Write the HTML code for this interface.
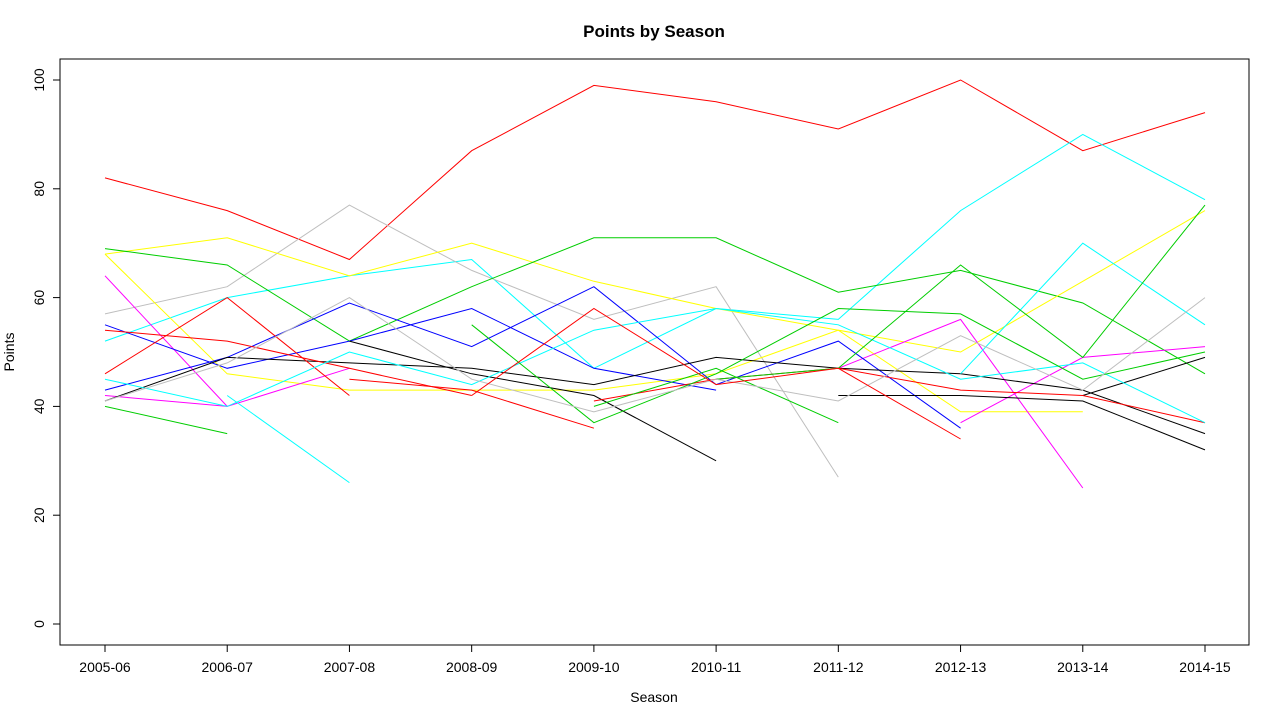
<!DOCTYPE html>
<html><head><meta charset="utf-8"><style>
body{margin:0;background:#fff}
svg text{font-family:"Liberation Sans",Arial,sans-serif;fill:#000}
</style></head><body>
<svg id="chart" width="1280" height="720" xmlns="http://www.w3.org/2000/svg">
<rect width="1280" height="720" fill="#fff"/>
<text x="654" y="37" text-anchor="middle" font-size="17" font-weight="bold">Points by Season</text>
<rect x="60" y="59" width="1189" height="586" fill="none" stroke="#000"/>
<g id="marks"></g><g id="axes"></g>
<text x="654" y="702" text-anchor="middle" font-size="14">Season</text>
<text transform="translate(14,352) rotate(-90)" text-anchor="middle" font-size="14">Points</text>
</svg>
<script>
const seasons=["2005-06","2006-07","2007-08","2008-09","2009-10","2010-11","2011-12","2012-13","2013-14","2014-15"];
const yTicks=[0,20,40,60,80,100];
const seriesColors=["red","cyan","#bebebe","yellow","#00cd00","#00cd00","yellow","yellow","magenta","magenta","magenta","magenta","blue","blue","black","black","black","black","red","red","red","red","cyan","cyan","cyan","#00cd00","#00cd00","#00cd00","#bebebe","red"];
const s1=[82,76,67,87,99,96,91,100,87,94];
const s2=[52,60,64,67,47,58,56,76,90,78];
const s3=[57,62,77,65,56,62,27,null,null,null];
const s4=[68,71,64,70,63,58,54,39,39,null];
const s5=[69,66,52,62,71,71,61,65,59,46];
const s6=[40,35,null,null,null,null,null,null,null,null];
const s7=[68,46,43,43,43,46,54,50,63,76];
const s8=[null,54,null,33,null,null,null,null,null,null];
const s9=[64,40,null,null,null,null,null,null,null,null];
const s10=[42,40,47,null,null,null,null,null,null,null];
const s11=[null,null,null,null,null,null,47,56,25,null];
const s12=[null,null,null,null,null,null,null,37,49,51];
const s13=[55,47,52,58,47,43,null,null,null,null];
const s14=[43,49,59,51,62,44,52,36,null,null];
const s15=[41,49,48,47,44,49,47,46,43,35];
const s16=[null,null,52,46,42,30,null,null,null,null];
const s17=[null,null,null,null,null,null,42,42,41,32];
const s18=[null,null,null,null,null,null,null,null,42,49];
const s19=[54,52,47,42,null,null,null,null,null,null];
const s20=[46,60,42,null,null,null,null,null,null,null];
const s21=[null,null,45,43,36,null,null,null,null,null];
const s22=[null,null,null,null,41,45,47,43,42,37];
const s23=[45,40,50,44,54,58,55,45,48,37];
const s24=[null,42,26,null,null,null,null,null,null,null];
const s25=[null,null,null,null,null,null,null,46,70,55];
const s26=[null,null,null,55,37,46,58,57,45,50];
const s27=[null,null,null,null,40,47,37,null,null,null];
const s28=[null,null,null,null,null,45,47,66,49,77];
const s29=[41,48,60,45,39,45,41,53,43,60];
const s30=[null,null,null,42,58,44,47,34,null,41];
const allSeries=[s1,s2,s3,s4,s5,s6,s7,s8,s9,s10,s11,s12,s13,s14,s15,s16,s17,s18,s19,s20,s21,s22,s23,s24,s25,s26,s27,s28,s29,s30];
const NS="http://www.w3.org/2000/svg";
function xPos(i){return 105+i*(1100/(seasons.length-1));}
function yPos(v){return 624-v*5.44;}
const marks=document.getElementById('marks');
allSeries.forEach((s,k)=>{
  let d="",pen=false;
  s.forEach((v,i)=>{
    if(v===null){pen=false;return;}
    d+=(pen?"L":"M")+xPos(i).toFixed(1)+" "+yPos(v).toFixed(1)+" ";pen=true;
  });
  const p=document.createElementNS(NS,'path');
  p.setAttribute('d',d);p.setAttribute('fill','none');
  p.setAttribute('stroke',seriesColors[k]);p.setAttribute('stroke-width','1');
  
  
  marks.appendChild(p);
});
const axes=document.getElementById('axes');
seasons.forEach((lab,i)=>{
  const t=document.createElementNS(NS,'line');
  t.setAttribute('x1',xPos(i));t.setAttribute('x2',xPos(i));t.setAttribute('y1',645);t.setAttribute('y2',652);t.setAttribute('stroke','#000');
  
  
  axes.appendChild(t);
  const tx=document.createElementNS(NS,'text');
  tx.setAttribute('x',xPos(i));tx.setAttribute('y',672);tx.setAttribute('text-anchor','middle');tx.setAttribute('font-size','14');
  tx.textContent=lab;
  
  
  axes.appendChild(tx);
});
yTicks.forEach(v=>{
  const t=document.createElementNS(NS,'line');
  t.setAttribute('x1',53);t.setAttribute('x2',60);t.setAttribute('y1',yPos(v));t.setAttribute('y2',yPos(v));t.setAttribute('stroke','#000');
  
  
  axes.appendChild(t);
  const tx=document.createElementNS(NS,'text');
  tx.setAttribute('transform','translate(44,'+yPos(v)+') rotate(-90)');tx.setAttribute('text-anchor','middle');tx.setAttribute('font-size','14');
  tx.textContent=v;
  
  
  axes.appendChild(tx);
});
</script>
</body></html>
